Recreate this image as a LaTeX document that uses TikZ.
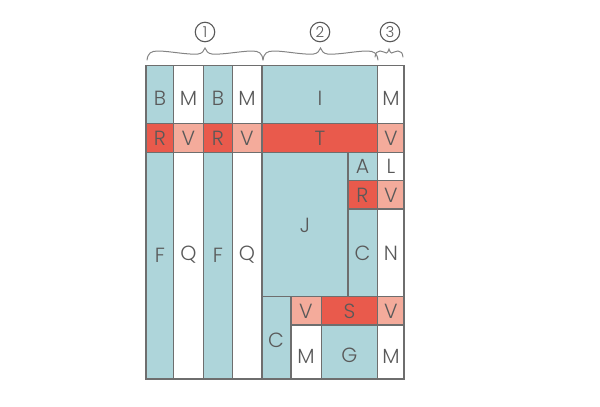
\documentclass[tikz,border=0pt]{standalone}
\usepackage{fontspec}
\IfFontExistsTF{Poppins Light}{\setmainfont{Poppins Light}}{\setmainfont{Poppins}}
\definecolor{teal}{HTML}{AED5DA}
\definecolor{redc}{HTML}{E95A4C}
\definecolor{salm}{HTML}{F4AB9B}
\definecolor{bord}{HTML}{6E6E6E}
\definecolor{txt}{HTML}{595959}
\tikzset{
  cellst/.style={draw=bord, line width=1.8pt, inner sep=0pt, outer sep=0pt, rectangle},
  lbl/.style={text=txt, font=\fontsize{20.5}{22}\selectfont, inner sep=0pt},
  numc/.style={circle, draw=txt, line width=1.1pt, minimum size=19.5pt, inner sep=0pt, text=txt, font=\fontsize{15}{16}\selectfont},
  bracest/.style={draw=bord!85, line width=1pt, line cap=round}
}
\newcommand\cellbox[9]{%
  \node[cellst, fill=#6, minimum width={#4pt-#2pt}, minimum height={#5pt-#3pt}] (#1) at ({(#2+#4)/2},{(#3+#5)/2}) {};
  \node[lbl] (#1-t) at (#8,#9) {#7};
}
% long curly brace: #1 = x1, #2 = x2
\newcommand\longbrace[2]{%
  \pgfmathsetmacro\bm{(#1+#2)/2}%
  \draw[bracest] (#1,60) .. controls (#1+1,53) and (#1+4,51) .. (#1+11,51)
    .. controls (#1+22,51) and (\bm-17,55) .. (\bm-7,54)
    .. controls (\bm-3,53.5) and (\bm-1,51) .. (\bm,48)
    .. controls (\bm+1,51) and (\bm+3,53.5) .. (\bm+7,54)
    .. controls (\bm+17,55) and (#2-22,51) .. (#2-11,51)
    .. controls (#2-4,51) and (#2-1,53) .. (#2,60);
}
\begin{document}
\begin{tikzpicture}[x=1pt,y=-1pt]
\useasboundingbox (0,0) rectangle (600,407);
% section 1
\cellbox{b1}{146}{65.5}{173.5}{123.5}{teal}{B}{160}{98}
\cellbox{m1}{173.5}{65.5}{203.5}{123.5}{white}{M}{188.5}{98}
\cellbox{b2}{203.5}{65.5}{232.5}{123.5}{teal}{B}{218}{98}
\cellbox{m2}{232.5}{65.5}{262}{123.5}{white}{M}{247}{98}
\cellbox{r1}{146}{123.5}{173.5}{152.5}{redc}{R}{160}{138}
\cellbox{v1}{173.5}{123.5}{203.5}{152.5}{salm}{V}{188.5}{138}
\cellbox{r2}{203.5}{123.5}{232.5}{152.5}{redc}{R}{218}{138}
\cellbox{v2}{232.5}{123.5}{262}{152.5}{salm}{V}{247}{138}
\cellbox{f1}{146}{152.5}{173.5}{379}{teal}{F}{160}{255}
\cellbox{q1}{173.5}{152.5}{203.5}{379}{white}{Q}{188.5}{255}
\cellbox{f2}{203.5}{152.5}{232.5}{379}{teal}{F}{218}{255}
\cellbox{q2}{232.5}{152.5}{262}{379}{white}{Q}{247}{255}
% section 2
\cellbox{i}{262}{65.5}{377.5}{123.5}{teal}{I}{320}{98}
\cellbox{t}{262}{123.5}{377.5}{152.5}{redc}{T}{320}{138}
\cellbox{j}{262}{152.5}{348}{296.5}{teal}{J}{305}{225}
\cellbox{a}{348}{152.5}{377.5}{180.5}{teal}{A}{362.5}{166.5}
\cellbox{r3}{348}{180.5}{377.5}{209}{redc}{R}{362.5}{195.5}
\cellbox{c1}{348}{209}{377.5}{296.5}{teal}{C}{362.5}{253}
\cellbox{c2}{262}{296.5}{291}{379}{teal}{C}{276}{340}
\cellbox{v3}{291}{296.5}{321.5}{325}{salm}{V}{306}{311}
\cellbox{m3}{291}{325}{321.5}{379}{white}{M}{306}{356}
\cellbox{s}{321.5}{296.5}{377.5}{325}{redc}{S}{349.5}{311}
\cellbox{g}{321.5}{325}{377.5}{379}{teal}{G}{349.5}{355}
% section 3
\cellbox{m4}{377.5}{65.5}{404}{123.5}{white}{M}{391}{98}
\cellbox{v4}{377.5}{123.5}{404}{152.5}{salm}{V}{391}{138}
\cellbox{l}{377.5}{152.5}{404}{180.5}{white}{L}{391}{166.5}
\cellbox{v5}{377.5}{180.5}{404}{209}{salm}{V}{391}{195.5}
\cellbox{n}{377.5}{209}{404}{296.5}{white}{N}{391}{253}
\cellbox{v6}{377.5}{296.5}{404}{325}{salm}{V}{391}{311}
\cellbox{m5}{377.5}{325}{404}{379}{white}{M}{391}{356}
% braces and numbers
\longbrace{147}{263}
\longbrace{263}{378}
\draw[bracest] (375,57) .. controls (375.5,53) and (377,51) .. (380,51)
  .. controls (383,51) and (385,53) .. (386.5,53)
  .. controls (387.5,53) and (388.5,51) .. (389,49)
  .. controls (389.5,51) and (390.5,53) .. (391.5,53)
  .. controls (393,53) and (395,51) .. (398,51)
  .. controls (401,51) and (402.5,53) .. (403,57);
\node[numc] (n1) at (205,32) {1};
\node[numc] (n2) at (320,32) {2};
\node[numc] (n3) at (390,32) {3};
\end{tikzpicture}
\end{document}
